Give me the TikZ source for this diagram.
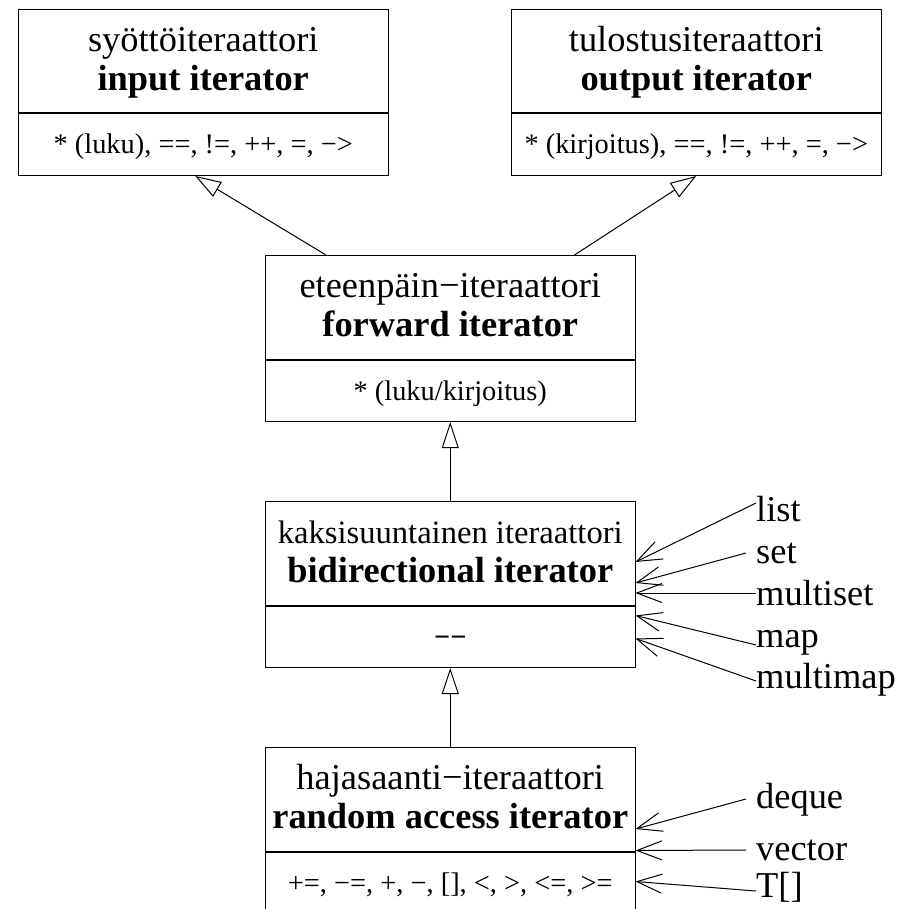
\documentclass[tikz,border=0pt]{standalone}
\usepackage{fontspec}
\setmainfont{Liberation Serif}
\usetikzlibrary{arrows.meta}
\newcommand{\titlebox}[2]{\vbox to 103.5pt{\offinterlineskip\hsize=369.5pt\kern42pt\hbox to 369.5pt{\hss\smash{#1}\hss}\kern39pt\hbox to 369.5pt{\hss\smash{\bfseries #2}\hss}\vss}}
\newcommand{\opsbox}[1]{\vbox to 61.5pt{\offinterlineskip\hsize=369.5pt\kern40pt\hbox to 369.5pt{\hss\smash{#1}\hss}\vss}}
\tikzset{
  umlbox/.style={draw, inner sep=0pt, line width=1pt, font=\fontsize{36.4}{39}\selectfont},
  opsfont/.style={font=\fontsize{28.4}{30}\selectfont},
  lbl/.style={inner sep=0pt, font=\fontsize{36.4}{39}\selectfont},
  inh/.style={-{Triangle[open,length=26pt,width=17pt]}, line width=1pt},
  assoc/.style={-{Straight Barb[length=25pt,width=19pt]}, line width=1pt},
}
\begin{document}
\begin{tikzpicture}[x=1pt,y=-1pt]
\useasboundingbox (0,0) rectangle (912,909);
\clip (0,0) rectangle (912,909);
% boxes
\node[umlbox, anchor=north west] (in) at (18,9) {\titlebox{syöttöiteraattori}{input iterator}};
\node[umlbox, opsfont, anchor=north] (inops) at (in.south) {\opsbox{* (luku), ==, !=, ++, =, −>}};
\node[umlbox, anchor=north west] (out) at (511,9) {\titlebox{tulostusiteraattori}{output iterator}};
\node[umlbox, opsfont, anchor=north] (outops) at (out.south) {\opsbox{* (kirjoitus), ==, !=, ++, =, −>}};
\node[umlbox, anchor=north west] (fwd) at (265,255) {\titlebox{eteenpäin−iteraattori}{forward iterator}};
\node[umlbox, opsfont, anchor=north] (fwdops) at (fwd.south) {\opsbox{* (luku/kirjoitus)}};
\node[umlbox, anchor=north west] (bid) at (265,501) {\titlebox{\fontsize{32.6}{39}\selectfont kaksisuuntainen iteraattori}{bidirectional iterator}};
\node[umlbox, opsfont, anchor=north] (bidops) at (bid.south) {\opsbox{\bfseries −−}};
\node[umlbox, anchor=north west] (rnd) at (265,747) {\titlebox{hajasaanti−iteraattori}{random access iterator}};
\node[umlbox, opsfont, anchor=north] (rndops) at (rnd.south) {\opsbox{+=, −=, +, −, [], <, >, <=, >=}};
% inheritance
\draw[inh] ([xshift=61pt]fwd.north west) -- ([xshift=-8pt]inops.south);
\draw[inh] ([xshift=-61pt]fwd.north east) -- (outops.south);
\draw[inh] (bid.north) -- (fwdops.south);
\draw[inh] (rnd.north) -- (bidops.south);
% container labels
\node[lbl, anchor=base west] (list) at (756,521) {list};
\node[lbl, anchor=base west] (set) at (756,563) {set};
\node[lbl, anchor=base west] (mset) at (756,605) {multiset};
\node[lbl, anchor=base west] (map) at (756,647) {map};
\node[lbl, anchor=base west] (mmap) at (756,688) {multimap};
\node[lbl, anchor=base west] (deque) at (756,808) {deque};
\node[lbl, anchor=base west] (vector) at (756,860) {vector};
\node[lbl, anchor=base west] (tarr) at (756,897) {T[]};
\draw[assoc] ([yshift=18pt]list.base west) -- ([yshift=-61pt]bid.north east);
\draw[assoc] ([xshift=-10pt,yshift=10pt]set.base west) -- ([yshift=-82pt]bid.north east);
\draw[assoc] ([yshift=12pt]mset.base west) -- ([yshift=-92pt]bid.north east);
\draw[assoc] ([yshift=2pt]map.base west) -- ([yshift=-10pt]bidops.north east);
\draw[assoc] ([yshift=7pt]mmap.base west) -- ([yshift=-33pt]bidops.north east);
\draw[assoc] ([xshift=-10pt,yshift=9pt]deque.base west) -- ([yshift=-82pt]rnd.north east);
\draw[assoc] ([xshift=-10pt,yshift=10pt]vector.base west) -- ([yshift=1pt]rnd.south east);
\draw[assoc] ([yshift=6pt]tarr.base west) -- ([yshift=-30pt]rndops.north east);
\end{tikzpicture}
\end{document}
